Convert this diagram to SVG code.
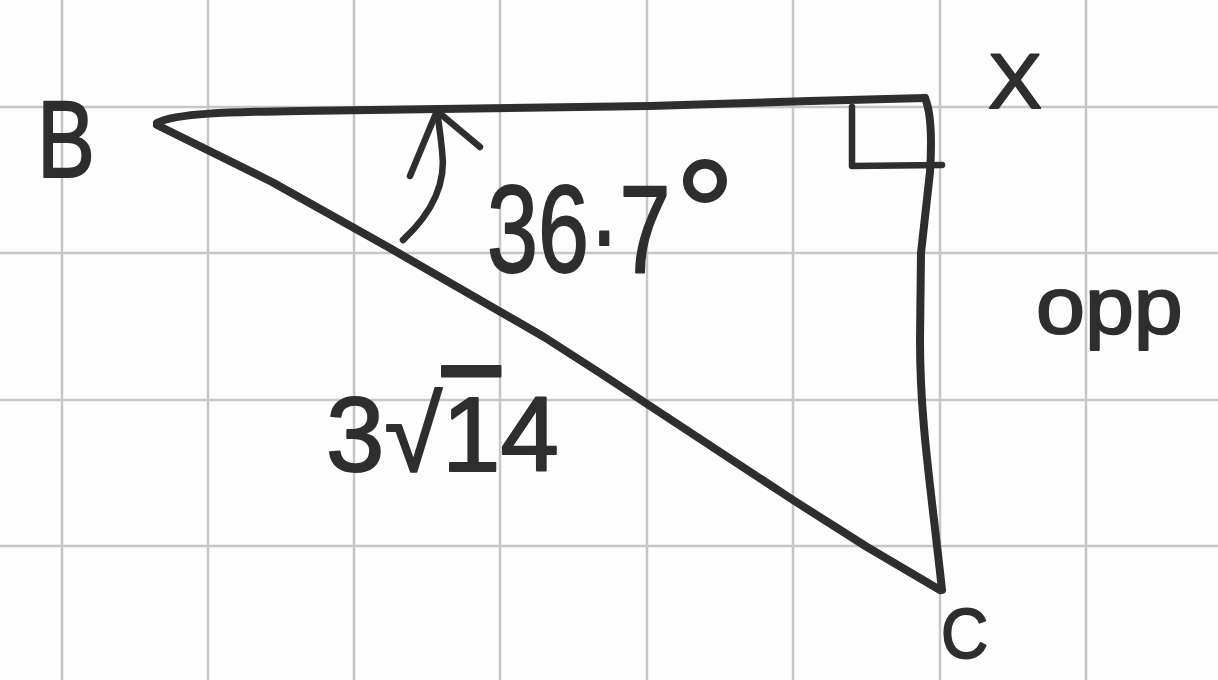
<svg xmlns="http://www.w3.org/2000/svg" width="1218" height="680" viewBox="0 0 1218 680">
  <style>
    .grid line { stroke: #c6c6c6; stroke-width: 2.5; }
    .ink { fill: none; stroke: #2e2e2e; stroke-width: 8; stroke-linecap: round; stroke-linejoin: round; }
    .thin { stroke-width: 6.5; }
    .lbl { font-family: "Liberation Sans", "DejaVu Sans", sans-serif; fill: #2e2e2e; stroke: #2e2e2e; stroke-width: 2; stroke-linejoin: round; }
  </style>
  <rect width="1218" height="680" fill="#fdfdfd"/>
  <g class="grid">
    <line x1="62" y1="0" x2="62" y2="680"/>
    <line x1="208" y1="0" x2="208" y2="680"/>
    <line x1="354" y1="0" x2="354" y2="680"/>
    <line x1="500" y1="0" x2="500" y2="680"/>
    <line x1="647" y1="0" x2="647" y2="680"/>
    <line x1="793" y1="0" x2="793" y2="680"/>
    <line x1="940" y1="0" x2="940" y2="680"/>
    <line x1="1086" y1="0" x2="1086" y2="680"/>
    <line x1="0" y1="107" x2="1218" y2="107"/>
    <line x1="0" y1="253" x2="1218" y2="253"/>
    <line x1="0" y1="400" x2="1218" y2="400"/>
    <line x1="0" y1="546" x2="1218" y2="546"/>
  </g>
  <g id="connectors">
    <path id="edge-BX" class="ink" d="M157,123 C175,113 230,112 300,111 L650,106 L810,101 L925,98"/>
    <path id="edge-XC" class="ink" d="M925,98 C931,112 932,140 930,172 L921,253 L920,340 C920,420 930,480 942,590"/>
    <path id="edge-BC" class="ink" d="M157,125 L272,182 L388,247 L544,337 L600,373 L793,500 L867,547 L940,590"/>
    <path id="right-angle" class="ink thin" d="M852,107 L852,166 L942,165"/>
    <path id="angle-arc" class="ink thin" d="M403,240 C430,215 447,185 442,150 C440,130 438,118 437,111"/>
    <path id="angle-arrowhead" class="ink thin" d="M410,176 L437,111 L480,147"/>
  </g>
  <g id="node-B">
    <text class="lbl" transform="translate(37,177) scale(0.79,1)" font-size="110">B</text>
  </g>
  <g id="node-X">
    <text class="lbl" transform="translate(988,108) scale(1.05,1)" font-size="77">X</text>
  </g>
  <g id="node-C">
    <text class="lbl" transform="translate(941,658) scale(0.92,1)" font-size="71">C</text>
  </g>
  <g id="label-angle">
    <text class="lbl" transform="translate(487,272) scale(0.733,1)" font-size="125">36·7</text>
    <text class="lbl" x="675" y="265" font-size="150">°</text>
  </g>
  <g id="label-hyp">
    <text class="lbl" x="326" y="471" font-size="105">3√<tspan text-decoration="overline">1</tspan>4</text>
  </g>
  <g id="label-opp">
    <text class="lbl" transform="translate(1036,333) scale(1.1,1)" font-size="80">opp</text>
  </g>
</svg>
